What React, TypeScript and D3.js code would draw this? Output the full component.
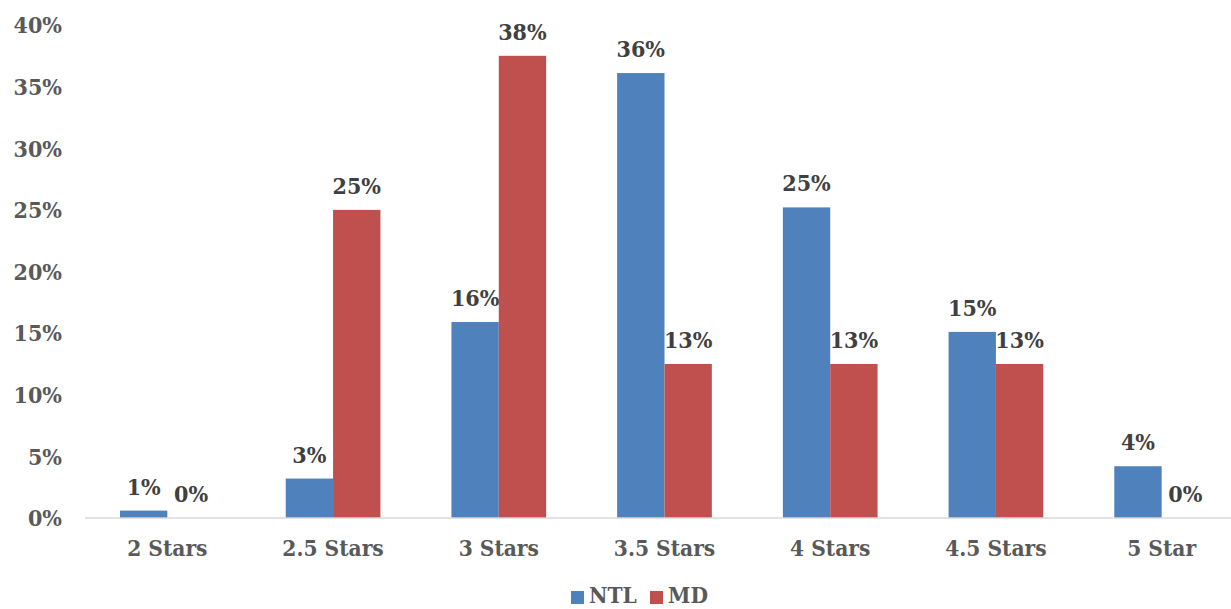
import React from "react";
import * as d3 from "d3";

const categories = ["2 Stars", "2.5 Stars", "3 Stars", "3.5 Stars", "4 Stars", "4.5 Stars", "5 Star"];
const ntlValues = [0.6, 3.2, 15.9, 36.1, 25.2, 15.1, 4.2];
const mdValues = [0, 25, 37.5, 12.5, 12.5, 12.5, 0];
const seriesNames = ["NTL", "MD"];
const seriesColors = ["#4F81BD", "#C0504D"];
const yTicks = [0, 5, 10, 15, 20, 25, 30, 35, 40];

const W = 1231;
const H = 609;
const FONT = "'DejaVu Serif', serif";
const FS = 22.5;

export default function App() {
  const x0 = d3.scaleBand<string>().domain(categories).range([84.5, 1244.5]).paddingInner(0).paddingOuter(0);
  const bw = x0.bandwidth();
  const barW = bw / 3.5;
  const x1 = d3.scaleBand<string>().domain(seriesNames).range([bw * 0.75 / 3.5, bw * 0.75 / 3.5 + 2 * barW]);
  const y = d3.scaleLinear().domain([0, 40]).range([518, 25]);
  const series = [ntlValues, mdValues];
  const ts = { fontStretch: "condensed" } as React.CSSProperties;

  return (
    <svg width={W} height={H} style={{ position: "absolute", left: 0, top: 0 }} fontFamily={FONT} fontWeight="bold">
      <rect width={W} height={H} fill="#fff" />
      {yTicks.map((t) => (
        <text key={t} x={62} y={y(t)} dy="0.36em" textAnchor="end" fontSize={23} fill="#595959" style={ts}>
          {t + "%"}
        </text>
      ))}
      {categories.map((c, i) => (
        <g key={c}>
          {series.map((vals, s) => {
            const bx = (x0(c) as number) + (x1(seriesNames[s]) as number);
            return (
              <g key={s}>
                <rect x={bx} y={y(vals[i])} width={barW} height={y(0) - y(vals[i])} fill={seriesColors[s]} />
                <text x={bx + barW / 2} y={y(vals[i]) - 16} textAnchor="middle" fontSize={23} fill="#404040" style={ts}>
                  {Math.round(vals[i]) + "%"}
                </text>
              </g>
            );
          })}
          <text x={(x0(c) as number) + bw / 2} y={556} textAnchor="middle" fontSize={FS} fill="#595959" style={ts}>
            {c}
          </text>
        </g>
      ))}
      <line x1={85} x2={1231} y1={518} y2={518} stroke="#D9D9D9" strokeWidth={1.5} />
      <g>
        <rect x={571} y={591} width={13} height={13} fill={seriesColors[0]} />
        <text x={589} y={603} fontSize={FS} fill="#595959" style={ts}>NTL</text>
        <rect x={650} y={591} width={13} height={13} fill={seriesColors[1]} />
        <text x={668} y={603} fontSize={FS} fill="#595959" style={ts}>MD</text>
      </g>
    </svg>
  );
}
